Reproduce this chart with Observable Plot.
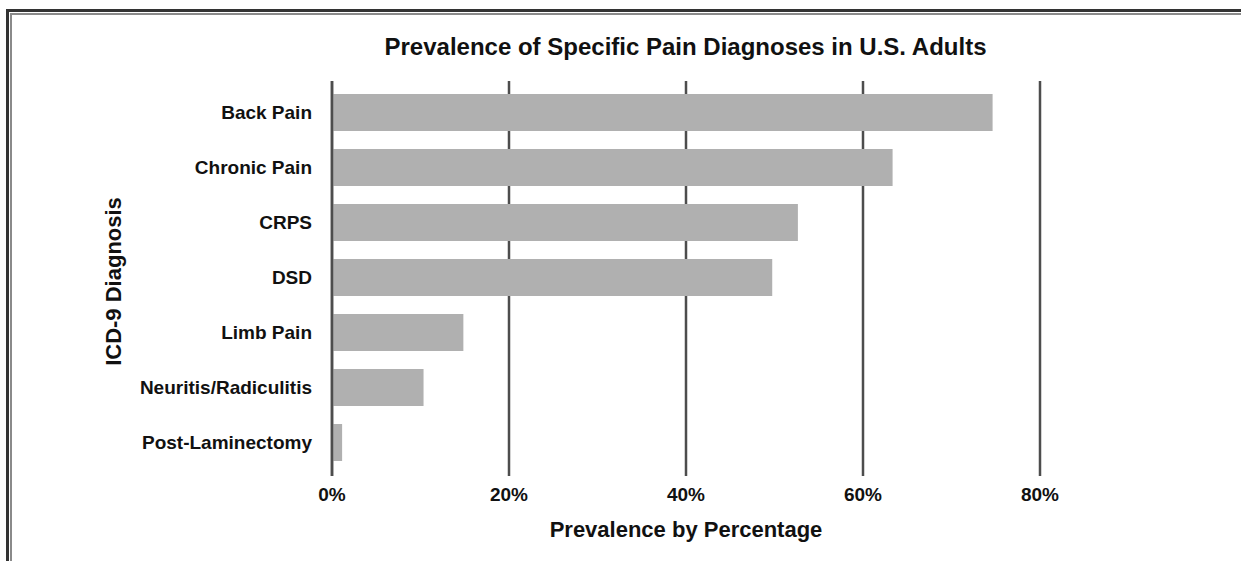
<!DOCTYPE html>
<html>
<head>
<meta charset="utf-8">
<script src="https://cdn.jsdelivr.net/npm/d3@7"></script>
<script src="https://cdn.jsdelivr.net/npm/@observablehq/plot@0.6"></script>
<style>
  html, body { margin: 0; padding: 0; background: #fff; }
  body { width: 1241px; height: 561px; position: relative; overflow: hidden;
         font-family: "Liberation Sans", Arial, Helvetica, sans-serif; }
  .b { position: absolute; }
  #title { width: 1241px; box-sizing: border-box; height: 70px; padding-left: 130px; padding-top: 35px;
           text-align: center; font-size: 24px; line-height: 1; font-weight: bold; color: #111; }
  #chart { display: block; }
</style>
</head>
<body>
<div class="b" style="left:6px;top:9px;width:1235px;height:3px;background:#333;"></div>
<div class="b" style="left:10px;top:13px;width:1231px;height:2px;background:#8a8a8a;"></div>
<div class="b" style="left:6px;top:9px;width:3px;height:552px;background:#333;"></div>
<div class="b" style="left:10px;top:13px;width:2px;height:548px;background:#8a8a8a;"></div>
<div id="title">Prevalence of Specific Pain Diagnoses in U.S. Adults</div>
<div id="chart"></div>
<script>
const categories = ["Back Pain", "Chronic Pain", "CRPS", "DSD", "Limb Pain", "Neuritis/Radiculitis", "Post-Laminectomy"];
const values = [74.7, 63.4, 52.7, 49.8, 14.9, 10.4, 1.2];
const xTicks = [0, 20, 40, 60, 80];
const xLabel = "Prevalence by Percentage";
const yLabel = "ICD-9 Diagnosis";

const data = categories.map((c, i) => ({category: c, value: values[i]}));
const font = "'Liberation Sans', Arial, Helvetica, sans-serif";

const chart = Plot.plot({
  width: 1241,
  height: 491,
  marginLeft: 331.5,
  marginRight: 201.5,
  marginTop: 11,
  marginBottom: 85,
  style: {fontFamily: font, fontSize: "19px", fontWeight: "bold", color: "#111", background: "transparent", overflow: "visible"},
  x: {domain: [0, 80], label: null},
  y: {domain: categories, range: [13, 402], paddingInner: 0.33, paddingOuter: 0.165, label: null},
  marks: [
    Plot.ruleX(xTicks, {stroke: "#4d4d4d", strokeWidth: 2.5}),
    Plot.barX(data, {x: "value", y: "category", fill: "#b0b0b0"}),
    Plot.ruleX([0], {stroke: "#4d4d4d", strokeWidth: 2.5}),
    Plot.axisX({ticks: xTicks, tickSize: 0, tickPadding: 11, tickFormat: d => d + "%", label: null, fill: "#111"}),
    Plot.axisY({tickSize: 0, tickPadding: 20, label: null, fill: "#111"}),
    Plot.text([xLabel], {frameAnchor: "bottom", textAnchor: "middle", lineAnchor: "middle", dy: 53.5, fontSize: 22, fontWeight: "bold", fill: "#111"}),
    Plot.text([yLabel], {frameAnchor: "left", textAnchor: "middle", lineAnchor: "middle", rotate: -90, dx: -218, dy: 2.5, fontSize: 22, fontWeight: "bold", fill: "#111"})
  ]
});
chart.id = "plotsvg";
document.getElementById("chart").appendChild(chart);
</script>
</body>
</html>
